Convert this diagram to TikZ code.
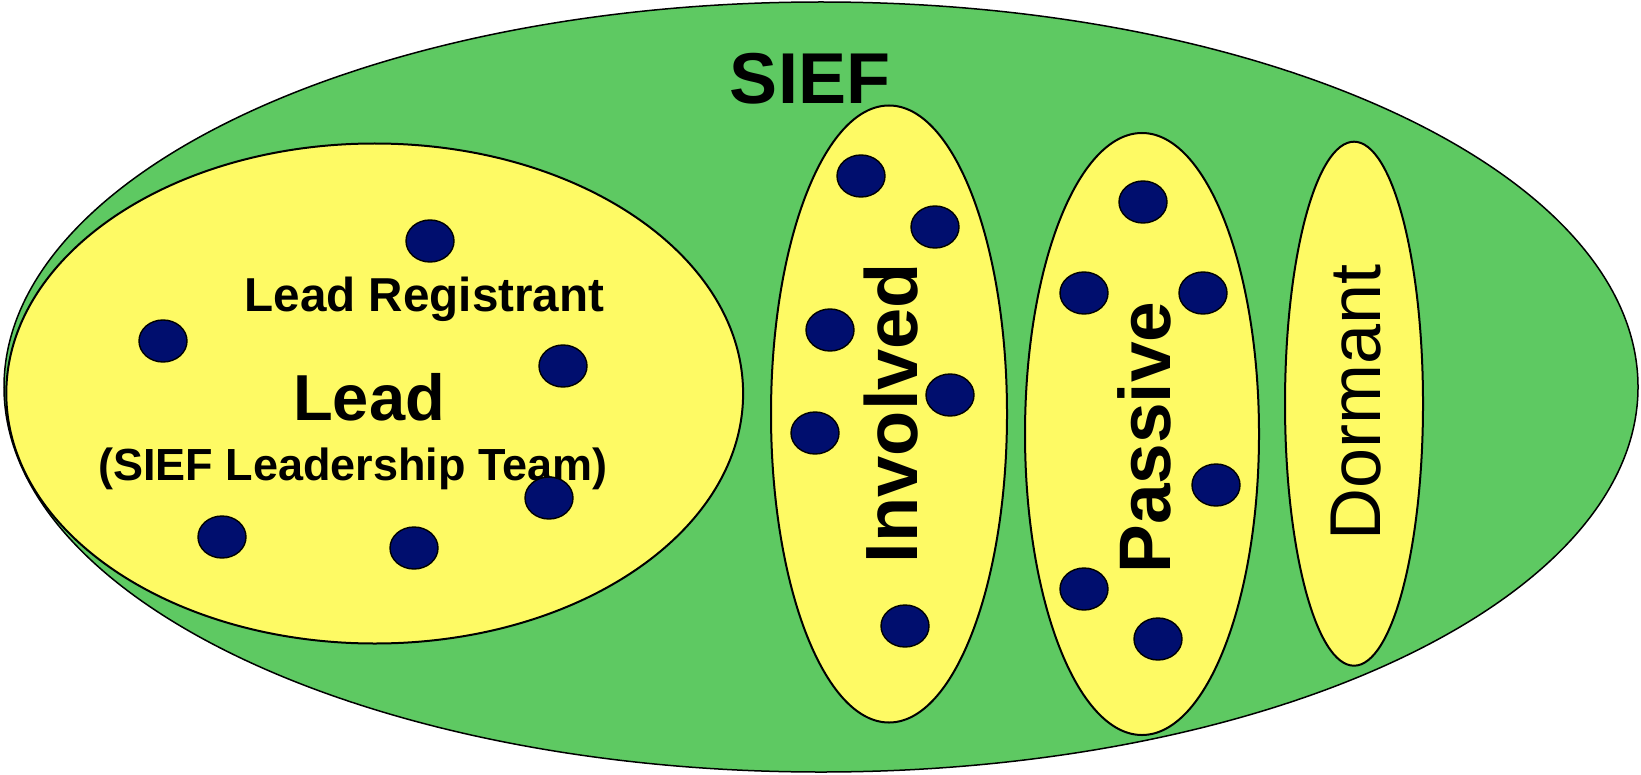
\documentclass[tikz,border=0pt]{standalone}
\usepackage{fontspec}
\setmainfont{Liberation Sans}
\usetikzlibrary{shapes.geometric}
\definecolor{siefgreen}{RGB}{94,201,98}
\definecolor{groupyellow}{RGB}{254,250,100}
\definecolor{membernavy}{RGB}{0,14,110}
\tikzset{
  field/.style={ellipse, draw=black, line width=0.75pt, fill=siefgreen, inner sep=0pt},
  group/.style={ellipse, draw=black, line width=1pt, fill=groupyellow, inner sep=0pt},
  member/.style={ellipse, draw=black, line width=0.7pt, fill=membernavy, inner sep=0pt,
                 minimum width=24pt, minimum height=21pt},
  label/.style={inner sep=0pt, anchor=base, text=black}
}
\newcommand{\fsz}[1]{\fontsize{#1}{#1}\selectfont}
\begin{document}
\begin{tikzpicture}[x=0.5pt,y=-0.5pt]
\useasboundingbox (0,0) rectangle (1641,775);

% outer forum
\node[field, minimum width=817pt, minimum height=385pt] (sief) at (821,387) {};

% member groups
\node[group, minimum width=368.4pt, minimum height=250pt] (lead) at (374.7,393.5) {};
\node[group, minimum width=118pt, minimum height=308.5pt] (involved) at (889,414) {};
\node[group, minimum width=117pt, minimum height=301pt] (passive) at (1142,434) {};
\node[group, minimum width=69pt, minimum height=262pt] (dormant) at (1354,403.7) {};

% titles
\node[label, font=\bfseries\fsz{36}] (tsief) at (810,104) {SIEF};
\node[label, font=\bfseries\fsz{23.8}] (tregistrant) at (424.5,311) {Lead Registrant};
\node[label, font=\bfseries\fsz{32.5}] (tlead) at (369,420) {Lead};
\node[label, font=\bfseries\fsz{22.5}] (tteam) at (353,480) {(SIEF Leadership Team)};
\node[label, rotate=90, font=\bfseries\fsz{37}] (tinvolved) at (917,413) {Involved};
\node[label, rotate=90, font=\bfseries\fsz{36.5}] (tpassive) at (1170,437.5) {Passive};
\node[label, rotate=90, font=\fsz{36}] (tdormant) at (1380,402) {Dormant};

% registrants in the lead group
\node[member] (l1) at (430,241) {};
\node[member] (l2) at (163,341) {};
\node[member] (l3) at (563,366) {};
\node[member] (l4) at (549,498) {};
\node[member] (l5) at (222,537) {};
\node[member] (l6) at (414,548) {};

% involved registrants
\node[member] (i1) at (861,176) {};
\node[member] (i2) at (935,227) {};
\node[member] (i3) at (830,330) {};
\node[member] (i4) at (950,395) {};
\node[member] (i5) at (815,433) {};
\node[member] (i6) at (905,626) {};

% passive registrants
\node[member] (p1) at (1143,202) {};
\node[member] (p2) at (1084,293) {};
\node[member] (p3) at (1203,293) {};
\node[member] (p4) at (1216,485) {};
\node[member] (p5) at (1084,589) {};
\node[member] (p6) at (1158,639) {};
\end{tikzpicture}
\end{document}
